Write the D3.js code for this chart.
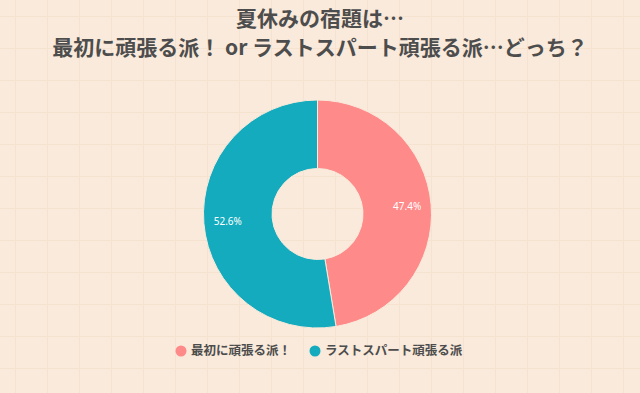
<!DOCTYPE html>
<html>
<head>
  <meta charset="utf-8">
  <title>夏休みの宿題</title>
  <script src="https://d3js.org/d3.v7.min.js"></script>
  <style>
    body { margin: 0; background: #f9eadb; }
    svg { display: block; }
  </style>
</head>
<body>
  <div id="chart"></div>
  <script>
    // data
    var titleLines = ["夏休みの宿題は…", "最初に頑張る派！ or ラストスパート頑張る派…どっち？"];
    var categories = ["最初に頑張る派！", "ラストスパート頑張る派"];
    var values = [47.4, 52.6];
    var colors = ["#ff8a8a", "#13abbd"];

    var width = 640, height = 393;
    var cx = 317.5, cy = 214, outerR = 114, innerR = 45.5, labelR = 90;

    var svg = d3.select("#chart").append("svg")
      .attr("width", width)
      .attr("height", height);

    svg.append("rect")
      .attr("width", width).attr("height", height)
      .attr("fill", "#f9eadb");

    // faint background grid
    var grid = svg.append("g").attr("stroke", "#f5e3d0").attr("stroke-width", 1);
    grid.selectAll("line.v")
      .data(d3.range(15.5, width, 32))
      .enter().append("line")
        .attr("x1", function(d) { return d; }).attr("x2", function(d) { return d; })
        .attr("y1", 0).attr("y2", height);
    grid.selectAll("line.h")
      .data(d3.range(16.5, height, 32))
      .enter().append("line")
        .attr("y1", function(d) { return d; }).attr("y2", function(d) { return d; })
        .attr("x1", 0).attr("x2", width);

    // title
    svg.append("g").selectAll("text")
      .data(titleLines)
      .enter().append("text")
        .attr("x", 320)
        .attr("y", function(d, i) { return 26 + i * 29; })
        .attr("text-anchor", "middle")
        .style("font-family", "'Noto Sans CJK JP', 'Noto Sans', sans-serif")
        .style("font-weight", "bold")
        .style("font-size", "21px")
        .style("fill", "#4d4d4d")
        .text(function(d) { return d; });

    // donut
    var pie = d3.pie().sort(null)(values);
    var arc = d3.arc().innerRadius(innerR).outerRadius(outerR);
    var labelArc = d3.arc().innerRadius(labelR).outerRadius(labelR);

    var g = svg.append("g").attr("transform", "translate(" + cx + "," + cy + ")");
    g.selectAll("path")
      .data(pie)
      .enter().append("path")
        .attr("d", arc)
        .attr("fill", function(d, i) { return colors[i]; })
        .attr("stroke", "#f9eadb")
        .attr("stroke-width", 1);

    g.selectAll("text")
      .data(pie)
      .enter().append("text")
        .attr("transform", function(d) { return "translate(" + labelArc.centroid(d) + ")"; })
        .attr("dy", "0.35em")
        .attr("text-anchor", "middle")
        .style("font-family", "'Noto Sans', sans-serif")
        .style("font-size", "10px")
        .style("fill", "#ffffff")
        .text(function(d) { return d.data.toFixed(1) + "%"; });

    // legend
    var legendX = [181, 315];
    var legend = svg.append("g").selectAll("g")
      .data(categories)
      .enter().append("g")
        .attr("transform", function(d, i) { return "translate(" + legendX[i] + ",351)"; });
    legend.append("circle")
      .attr("r", 5.5)
      .attr("fill", function(d, i) { return colors[i]; });
    legend.append("text")
      .attr("x", 10)
      .attr("dy", "0.35em")
      .style("font-family", "'Noto Sans CJK JP', sans-serif")
      .style("font-weight", "bold")
      .style("font-size", "12.5px")
      .style("fill", "#4d4d4d")
      .text(function(d) { return d; });
  </script>
</body>
</html>
